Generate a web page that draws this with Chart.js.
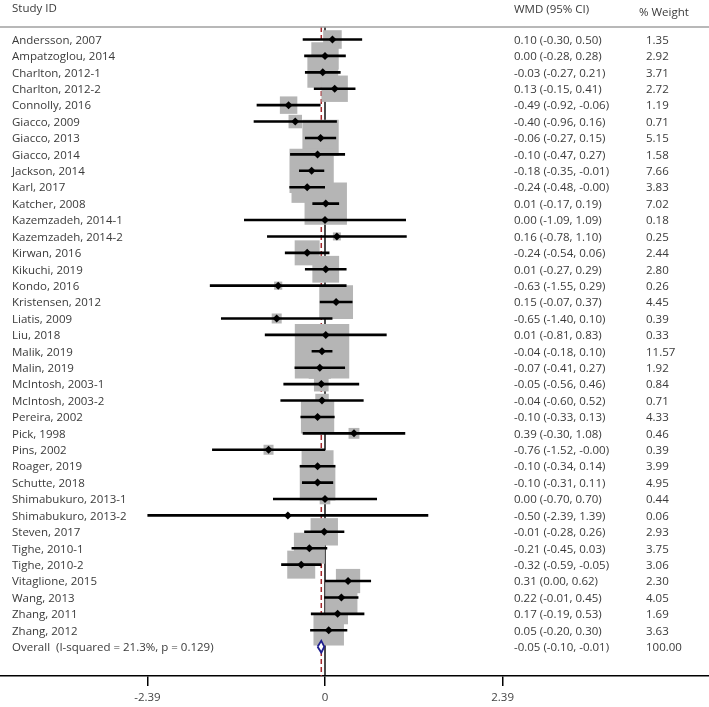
<!DOCTYPE html>
<html>
<head>
<meta charset="utf-8">
<script src="https://cdn.jsdelivr.net/npm/chart.js@4.4.1/dist/chart.umd.min.js"></script>
<style>
html, body { margin: 0; padding: 0; background: #fff; }
#wrap { width: 709px; height: 707px; }
</style>
</head>
<body>
<div id="wrap"><canvas id="forest" width="709" height="707"></canvas></div>
<script>
const studies = [
  'Andersson, 2007', 'Ampatzoglou, 2014', 'Charlton, 2012-1', 'Charlton, 2012-2',
  'Connolly, 2016', 'Giacco, 2009', 'Giacco, 2013', 'Giacco, 2014', 'Jackson, 2014',
  'Karl, 2017', 'Katcher, 2008', 'Kazemzadeh, 2014-1', 'Kazemzadeh, 2014-2',
  'Kirwan, 2016', 'Kikuchi, 2019', 'Kondo, 2016', 'Kristensen, 2012', 'Liatis, 2009',
  'Liu, 2018', 'Malik, 2019', 'Malin, 2019', 'McIntosh, 2003-1', 'McIntosh, 2003-2',
  'Pereira, 2002', 'Pick, 1998', 'Pins, 2002', 'Roager, 2019', 'Schutte, 2018',
  'Shimabukuro, 2013-1', 'Shimabukuro, 2013-2', 'Steven, 2017', 'Tighe, 2010-1',
  'Tighe, 2010-2', 'Vitaglione, 2015', 'Wang, 2013', 'Zhang, 2011', 'Zhang, 2012'
];
const estimates = [0.10, 0.00, -0.03, 0.13, -0.49, -0.40, -0.06, -0.10, -0.18, -0.24, 0.01, 0.00, 0.16,
  -0.24, 0.01, -0.63, 0.15, -0.65, 0.01, -0.04, -0.07, -0.05, -0.04, -0.10, 0.39, -0.76, -0.10, -0.10,
  0.00, -0.50, -0.01, -0.21, -0.32, 0.31, 0.22, 0.17, 0.05];
const lower = [-0.30, -0.28, -0.27, -0.15, -0.92, -0.96, -0.27, -0.47, -0.35, -0.48, -0.17, -1.09, -0.78,
  -0.54, -0.27, -1.55, -0.07, -1.40, -0.81, -0.18, -0.41, -0.56, -0.60, -0.33, -0.30, -1.52, -0.34, -0.31,
  -0.70, -2.39, -0.28, -0.45, -0.59, 0.00, -0.01, -0.19, -0.20];
const upper = [0.50, 0.28, 0.21, 0.41, -0.06, 0.16, 0.15, 0.27, -0.01, -0.00, 0.19, 1.09, 1.10,
  0.06, 0.29, 0.29, 0.37, 0.10, 0.83, 0.10, 0.27, 0.46, 0.52, 0.13, 1.08, -0.00, 0.14, 0.11,
  0.70, 1.39, 0.26, 0.03, -0.05, 0.62, 0.45, 0.53, 0.30];
const weights = [1.35, 2.92, 3.71, 2.72, 1.19, 0.71, 5.15, 1.58, 7.66, 3.83, 7.02, 0.18, 0.25,
  2.44, 2.80, 0.26, 4.45, 0.39, 0.33, 11.57, 1.92, 0.84, 0.71, 4.33, 0.46, 0.39, 3.99, 4.95,
  0.44, 0.06, 2.93, 3.75, 3.06, 2.30, 4.05, 1.69, 3.63];

const overallLabel = 'Overall  (I-squared = 21.3%, p = 0.129)';
const overallEst = -0.05;
const overallLo = -0.10;
const overallHi = -0.01;
const overallWeight = 100.00;

const xTicks = [-2.39, 0, 2.39];

const overallRow = studies.length;
const yTop = -0.762;
const yBottom = 38.786;

// keeps the sign on -0.00
const fmt = v => (Object.is(v, -0) ? '-' : '') + v.toFixed(2);

const boxPoints = studies.map((s, i) => ({ x: estimates[i], y: i }));
const estPoints = studies.map((s, i) => ({ x: estimates[i], y: i }));

const ciPoints = [];
studies.forEach((s, i) => {
  ciPoints.push({ x: lower[i], y: i });
  ciPoints.push({ x: upper[i], y: i });
  ciPoints.push({ x: null, y: null });
});

const diamondPoints = [
  { x: overallLo, y: overallRow },
  { x: overallEst, y: overallRow - 0.36 },
  { x: overallHi, y: overallRow },
  { x: overallEst, y: overallRow + 0.36 },
  { x: overallLo, y: overallRow }
];

const textColumns = {
  id: 'textColumns',
  afterDraw(chart) {
    const ctx = chart.ctx;
    const y = chart.scales.y;
    const area = chart.chartArea;
    ctx.save();
    ctx.strokeStyle = '#a0a0a0';
    ctx.lineWidth = 1.5;
    ctx.beginPath();
    ctx.moveTo(0, area.top);
    ctx.lineTo(chart.width, area.top);
    ctx.stroke();

    ctx.font = '11.5px "Open Sans"';
    ctx.fillStyle = '#3a3a3a';
    ctx.textBaseline = 'middle';
    ctx.fillText('Study ID', 12, 9);
    ctx.fillText('WMD (95% CI)', 514, 10);
    ctx.fillText('% Weight', 639, 13);

    studies.forEach((name, i) => {
      const py = y.getPixelForValue(i) + 1;
      ctx.fillText(name, 12, py);
      ctx.fillText(fmt(estimates[i]) + ' (' + fmt(lower[i]) + ', ' + fmt(upper[i]) + ')', 514, py);
      ctx.fillText(weights[i].toFixed(2), 646, py);
    });
    const oy = y.getPixelForValue(overallRow) + 1;
    ctx.fillText(overallLabel, 12, oy);
    ctx.fillText(fmt(overallEst) + ' (' + fmt(overallLo) + ', ' + fmt(overallHi) + ')', 514, oy);
    ctx.fillText(overallWeight.toFixed(2), 646, oy);
    ctx.restore();
  }
};

Chart.defaults.font.family = '"Open Sans"';
Chart.defaults.font.size = 11.5;
Chart.defaults.color = '#3a3a3a';

new Chart(document.getElementById('forest'), {
  type: 'scatter',
  data: {
    datasets: [
      {
        type: 'line',
        data: diamondPoints,
        borderColor: '#1f1f8f',
        borderWidth: 1.8,
        backgroundColor: '#fff',
        fill: 'shape',
        pointRadius: 0,
        tension: 0,
        order: 1
      },
      {
        data: estPoints,
        pointStyle: 'rectRot',
        pointRadius: 4,
        backgroundColor: '#000',
        borderColor: '#000',
        borderWidth: 0,
        order: 2
      },
      {
        type: 'line',
        data: ciPoints,
        borderColor: '#000',
        borderWidth: 2.6,
        pointRadius: 0,
        spanGaps: false,
        tension: 0,
        order: 3
      },
      {
        data: boxPoints,
        pointStyle: 'rect',
        pointRadius: ctx => 16 * Math.sqrt(weights[ctx.dataIndex]) / Math.SQRT2,
        backgroundColor: '#b5b5b5',
        borderWidth: 0,
        order: 4
      },
      {
        type: 'line',
        data: [{ x: overallEst, y: yTop }, { x: overallEst, y: yBottom }],
        borderColor: '#a3282c',
        borderWidth: 1.5,
        borderDash: [5, 3],
        pointRadius: 0,
        order: 5
      },
      {
        type: 'line',
        data: [{ x: 0, y: yTop }, { x: 0, y: yBottom }],
        borderColor: '#000',
        borderWidth: 1.4,
        pointRadius: 0,
        order: 6
      }
    ]
  },
  options: {
    responsive: false,
    animation: false,
    devicePixelRatio: 1,
    layout: { autoPadding: false, padding: { top: 27, left: 0, right: 0, bottom: 0 } },
    plugins: {
      legend: { display: false },
      tooltip: { enabled: false }
    },
    scales: {
      x: {
        type: 'linear',
        min: -325 / 74.3,
        max: 384 / 74.3,
        afterBuildTicks: scale => { scale.ticks = xTicks.map(v => ({ value: v })); },
        afterFit: scale => { scale.height = 31; },
        ticks: {
          autoSkip: false,
          maxRotation: 0,
          padding: 5,
          color: '#444',
          callback: v => (v === 0 ? '0' : v.toFixed(2))
        },
        grid: {
          drawOnChartArea: false,
          drawTicks: true,
          tickLength: 10,
          color: '#000',
          lineWidth: 1.5
        },
        border: { display: true, color: '#000', width: 1.5 }
      },
      y: {
        type: 'linear',
        display: false,
        reverse: true,
        min: yTop,
        max: yBottom
      }
    }
  },
  plugins: [textColumns]
});
</script>
</body>
</html>
